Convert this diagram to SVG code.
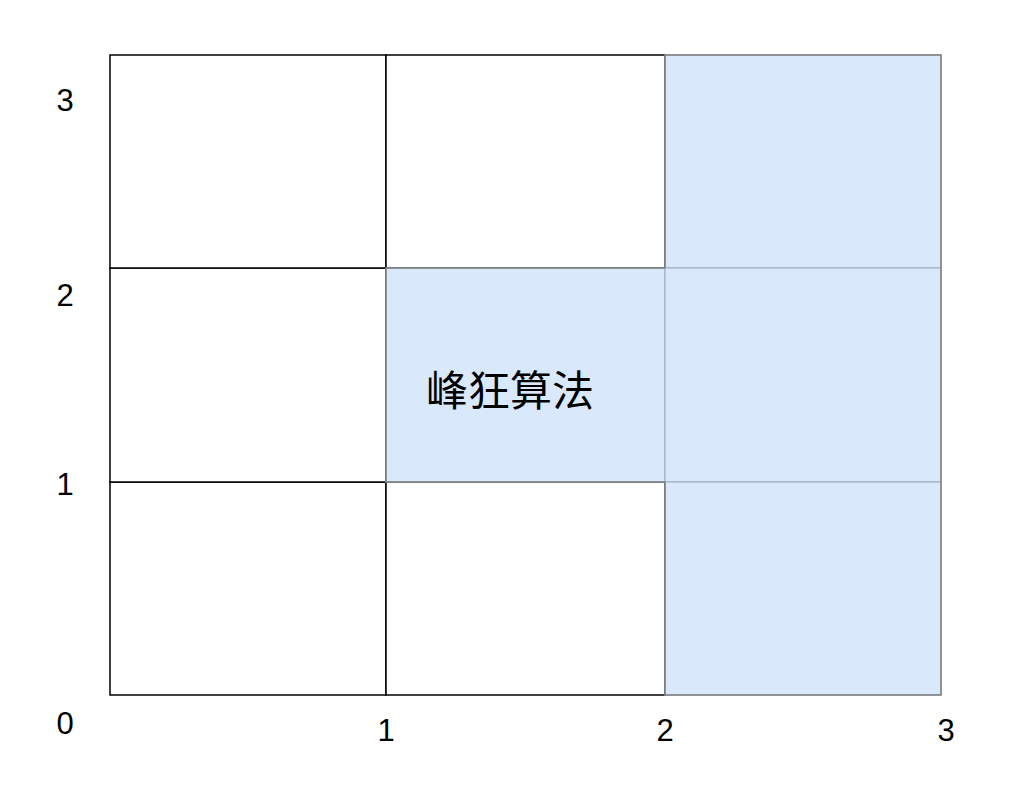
<svg xmlns="http://www.w3.org/2000/svg" width="1021" height="801" viewBox="0 0 1021 801">
<style>
.w{fill:#ffffff;stroke:#000000;stroke-width:1.5}
.b{fill:#dae8fc;stroke:#a3b3c6;stroke-width:1.2}
.lbl{font-family:"Liberation Sans",Arial,sans-serif;font-size:31px;fill:#000;text-anchor:middle}
.cjk{font-family:"Liberation Sans","Noto Sans CJK SC",sans-serif;font-size:42px;fill:#000;text-anchor:middle}
</style>
<rect width="1021" height="801" fill="#ffffff"/>
<g id="c00"><rect class="w" x="110" y="482" width="276" height="213"/></g>
<g id="c10"><rect class="w" x="386" y="482" width="279" height="213"/></g>
<g id="c01"><rect class="w" x="110" y="268" width="276" height="214"/></g>
<g id="c02"><rect class="w" x="110" y="55" width="276" height="213"/></g>
<g id="c12"><rect class="w" x="386" y="55" width="279" height="213"/></g>
<g id="c11"><rect class="b" x="386" y="268" width="279" height="214"/><text class="cjk" x="510" y="406">峰狂算法</text></g>
<g id="c22"><rect class="b" x="665" y="55" width="276" height="213"/></g>
<g id="c21"><rect class="b" x="665" y="268" width="276" height="214"/></g>
<g id="c20"><rect class="b" x="665" y="482" width="276" height="213"/></g>
<g id="outline" fill="none" stroke="#7f7f7f" stroke-width="1.5">
<path d="M386 268 L386 482 L665 482 L665 695 L941 695 L941 55 L665 55 L665 268"/>
<path d="M386 268 L665 268"/>
</g>
<g id="axes">
<text class="lbl" x="65" y="111">3</text>
<text class="lbl" x="65" y="306">2</text>
<text class="lbl" x="65" y="495">1</text>
<text class="lbl" x="65" y="734">0</text>
<text class="lbl" x="386" y="741">1</text>
<text class="lbl" x="665" y="741">2</text>
<text class="lbl" x="946" y="741">3</text>
</g>
</svg>
